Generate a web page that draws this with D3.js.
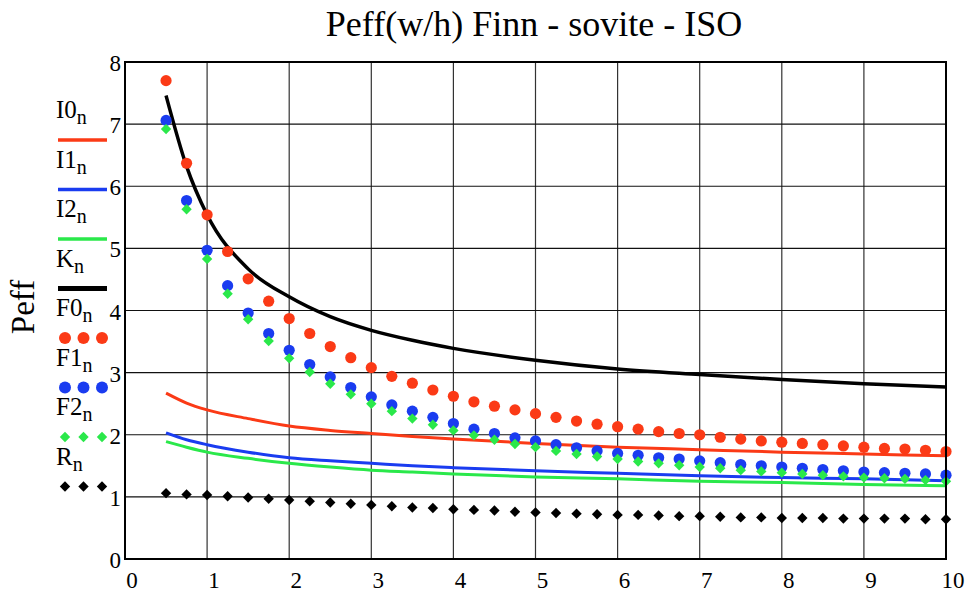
<!DOCTYPE html>
<html><head><meta charset="utf-8">
<script src="https://cdn.jsdelivr.net/npm/d3@7"></script>
<style>html,body{margin:0;padding:0;background:#fff;}svg{display:block;}</style>
</head><body>
<svg id="chart" width="966" height="594"></svg>
<script>
// ---- data ----
const xPts = [0.5,0.75,1,1.25,1.5,1.75,2,2.25,2.5,2.75,3,3.25,3.5,3.75,4,4.25,4.5,4.75,5,5.25,5.5,5.75,6,6.25,6.5,6.75,7,7.25,7.5,7.75,8,8.25,8.5,8.75,9,9.25,9.5,9.75,10];
const F0 = [7.70,6.37,5.54,4.95,4.51,4.15,3.87,3.63,3.42,3.24,3.08,2.94,2.83,2.72,2.62,2.53,2.46,2.40,2.34,2.28,2.22,2.17,2.13,2.09,2.05,2.02,2.00,1.96,1.93,1.90,1.88,1.86,1.84,1.82,1.80,1.78,1.77,1.75,1.73];
const F1 = [7.06,5.77,4.97,4.40,3.96,3.63,3.36,3.13,2.93,2.76,2.61,2.48,2.38,2.28,2.18,2.09,2.02,1.95,1.90,1.84,1.79,1.74,1.70,1.67,1.63,1.61,1.58,1.55,1.52,1.50,1.48,1.46,1.44,1.42,1.40,1.39,1.38,1.37,1.35];
const F2 = [6.92,5.63,4.83,4.27,3.86,3.51,3.23,3.01,2.82,2.65,2.50,2.38,2.26,2.16,2.07,1.99,1.92,1.85,1.80,1.74,1.69,1.65,1.61,1.57,1.54,1.51,1.48,1.46,1.43,1.41,1.39,1.37,1.35,1.33,1.31,1.30,1.29,1.27,1.25];
const R  = [1.06,1.04,1.03,1.01,0.99,0.97,0.95,0.93,0.91,0.89,0.87,0.85,0.83,0.82,0.80,0.79,0.78,0.76,0.75,0.74,0.73,0.72,0.71,0.71,0.70,0.69,0.69,0.68,0.67,0.67,0.66,0.66,0.66,0.65,0.65,0.65,0.65,0.64,0.64];
const lineX = [0.5,0.75,1,1.5,2,2.5,3,3.5,4,5,6,7,8,9,10];
const K  = [7.46,6.32,5.54,4.67,4.22,3.90,3.68,3.52,3.39,3.20,3.06,2.97,2.89,2.82,2.77];
const I0 = [2.67,2.51,2.40,2.26,2.14,2.07,2.02,1.97,1.93,1.86,1.80,1.76,1.72,1.69,1.66];
const I1 = [2.03,1.92,1.84,1.72,1.63,1.58,1.54,1.50,1.47,1.42,1.38,1.34,1.31,1.29,1.26];
const I2 = [1.89,1.80,1.72,1.62,1.54,1.48,1.43,1.40,1.37,1.32,1.29,1.25,1.23,1.20,1.18];
const xTicks = [0,1,2,3,4,5,6,7,8,9,10];
const yTicks = [0,1,2,3,4,5,6,7,8];
const title = "Peff(w/h) Finn - sovite - ISO";
const yTitle = "Peff";
const legendItems = [
  {name:"I0", type:"line", color:"#fb3a16"},
  {name:"I1", type:"line", color:"#1a3cf0"},
  {name:"I2", type:"line", color:"#2ae84a"},
  {name:"K",  type:"line", color:"#000000"},
  {name:"F0", type:"circle", color:"#fb3a16"},
  {name:"F1", type:"circle", color:"#1a3cf0"},
  {name:"F2", type:"diamond", color:"#2ae84a"},
  {name:"R",  type:"diamond", color:"#000000"}
];

// ---- chart ----
const FONT = "'Liberation Serif','Times New Roman',serif";
const svg = d3.select("#chart");
const x = d3.scaleLinear().domain([0,10]).range([125,946]);
const y = d3.scaleLinear().domain([0,8]).range([559,62]);

// grid
const grid = svg.append("g");
grid.selectAll("line.v").data(xTicks).join("line")
  .attr("x1", d=>x(d)).attr("x2", d=>x(d)).attr("y1", y(0)).attr("y2", y(8))
  .attr("stroke", "#333").attr("stroke-width", 1.2);
grid.selectAll("line.h").data(yTicks).join("line")
  .attr("x1", x(0)).attr("x2", x(10)).attr("y1", d=>y(d)).attr("y2", d=>y(d))
  .attr("stroke", "#111").attr("stroke-width", 1.2);

// tick labels
svg.append("g").selectAll("text").data(yTicks).join("text")
  .attr("x", 121).attr("y", d=>y(d)+9).attr("text-anchor","end")
  .attr("font-family", FONT).attr("font-size", 23).text(d=>d);
svg.append("g").selectAll("text").data(xTicks).join("text")
  .attr("x", d=>x(d)+7).attr("y", 588).attr("text-anchor","middle")
  .attr("font-family", FONT).attr("font-size", 23).text(d=>d);

// title
svg.append("text").attr("x", 534).attr("y", 36).attr("text-anchor","middle")
  .attr("font-family", FONT).attr("font-size", 36).text(title);
svg.append("text").attr("transform","translate(34,307) rotate(-90)").attr("text-anchor","middle")
  .attr("font-family", FONT).attr("font-size", 33).text(yTitle);

// lines
const lineGen = d3.line().x(d=>x(d[0])).y(d=>y(d[1])).curve(d3.curveMonotoneX);
const lineSeries = [[I0,"#fb3a16",3],[I1,"#1a3cf0",3],[I2,"#2ae84a",3],[K,"#000",3.5]];
lineSeries.forEach(([vals,c,w])=>{
  svg.append("path").datum(lineX.map((v,i)=>[v,vals[i]]))
    .attr("d", lineGen).attr("fill","none").attr("stroke",c).attr("stroke-width",w);
});

// points
const circ = (vals,c)=> svg.append("g").selectAll("circle").data(xPts.map((v,i)=>[v,vals[i]])).join("circle")
  .attr("cx", d=>x(d[0])).attr("cy", d=>y(d[1])).attr("r", 5.6).attr("fill", c);
const diamond = d3.symbol().type(d3.symbolSquare).size(54);
const diam = (vals,c)=> svg.append("g").selectAll("path").data(xPts.map((v,i)=>[v,vals[i]])).join("path")
  .attr("d", diamond).attr("transform", d=>`translate(${x(d[0])},${y(d[1])}) rotate(45)`).attr("fill", c);
circ(F0,"#fb3a16");
circ(F1,"#1a3cf0");
diam(F2,"#2ae84a");
diam(R,"#000");

// frame
svg.append("rect").attr("x", x(0)).attr("y", y(8)).attr("width", x(10)-x(0)).attr("height", y(0)-y(8))
  .attr("fill","none").attr("stroke","#000").attr("stroke-width",2);

// legend
const lg = svg.append("g");
legendItems.forEach((it,i)=>{
  const by = 118 + i*49.5;
  const t = lg.append("text").attr("x", 56).attr("y", by).attr("font-family", FONT).attr("font-size", 25);
  t.append("tspan").text(it.name);
  t.append("tspan").attr("dy", 6).attr("font-size", 20).text("n");
  const my = by + 22;
  if (it.type==="line") {
    lg.append("line").attr("x1",58).attr("x2",107).attr("y1",my).attr("y2",my)
      .attr("stroke", it.color).attr("stroke-width", it.name==="K"?5:3.5);
  } else {
    [65,83.5,102].forEach(cx=>{
      if (it.type==="circle") lg.append("circle").attr("cx",cx).attr("cy",my).attr("r",6).attr("fill",it.color);
      else lg.append("path").attr("d", diamond).attr("transform",`translate(${cx},${my}) rotate(45)`).attr("fill",it.color);
    });
  }
});
</script>
</body></html>
